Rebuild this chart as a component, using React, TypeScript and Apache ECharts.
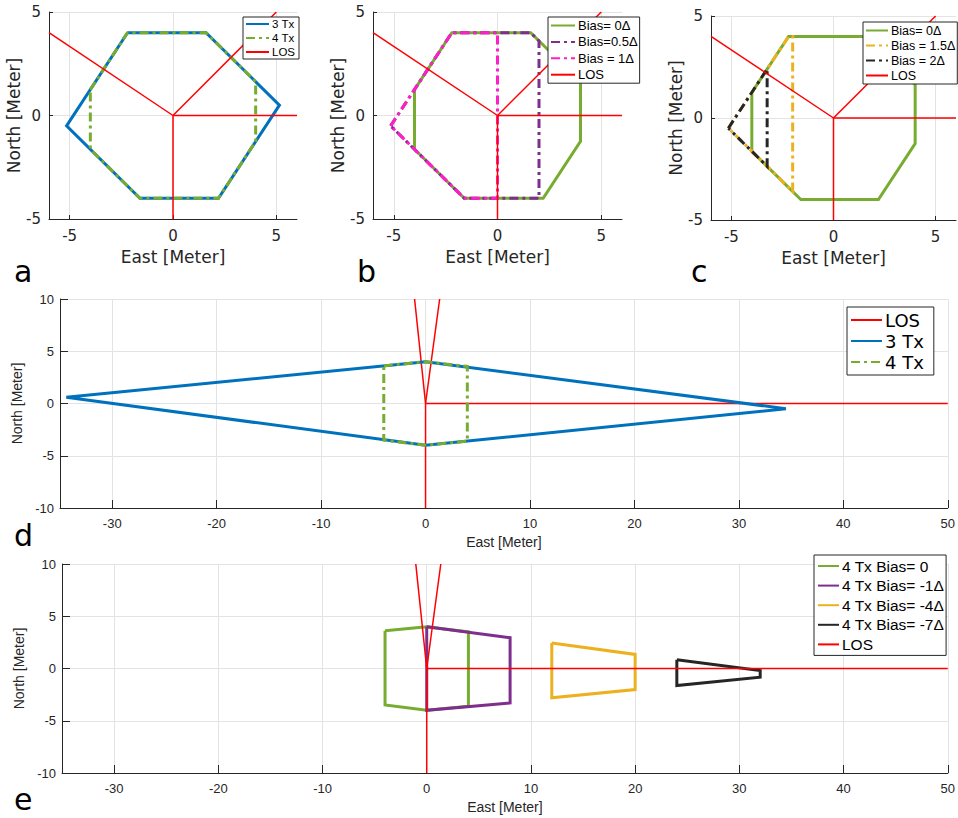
import React, { useEffect, useRef } from "react";
import * as echarts from "echarts";

// ---------- data ----------
const abcXTicks = [-5, 0, 5];
const deXTicks = [-30, -20, -10, 0, 10, 20, 30, 40, 50];

// LOS rays (each from the origin)
const losRaysABC = [
  [[0, 0], [-6, 4]],
  [[0, 0], [5, 5]],
  [[0, 0], [6, 0]],
  [[0, 0], [0, -5]],
];
const losRaysDE = [
  [[0, 0], [-1.05, 10]],
  [[0, 0], [1.35, 10]],
  [[0, 0], [50, 0]],
  [[0, 0], [0, -10]],
];

// panel a
const tx3A = [[-2.2, 4], [1.6, 4], [5.15, 0.5], [2.2, -4], [-1.6, -4], [-5.15, -0.5], [-2.2, 4]];
const tx4A = [[-4, 1.25], [-2.2, 4], [1.6, 4], [4, 1.63], [4, -1.25], [2.2, -4], [-1.6, -4], [-4, -1.63], [-4, 1.25]];
// panel b
const bias05 = [[-5.15, -0.5], [-2.2, 4], [1.6, 4], [2, 3.6], [2, -4], [-1.6, -4], [-5.15, -0.5]];
const bias1 = [[-5.15, -0.5], [-2.2, 4], [0, 4], [0, -4], [-1.6, -4], [-5.15, -0.5]];
// panel c
const bias15 = [[-5.15, -0.5], [-2.2, 4], [-2, 4], [-2, -3.6], [-5.15, -0.5]];
const bias2 = [[-5.15, -0.5], [-3.25, 2.4], [-3.25, -2.37], [-5.15, -0.5]];
// panel d
const tx3D = [[-34.4, 0.6], [0, 4], [34.5, -0.5], [0, -4], [-34.4, 0.6]];
const tx4D = [[-4, 3.6], [0, 4], [4, 3.55], [4, -3.6], [0, -4], [-4, -3.5], [-4, 3.6]];
// panel e
const eBias0 = [[-4, 3.62], [0, 4], [4, 3.5], [4, -3.6], [0, -4], [-4, -3.48], [-4, 3.62]];
const eBiasM1 = [[0, 4], [8, 2.95], [8, -3.3], [0, -4], [0, 4]];
const eBiasM4 = [[12, 2.45], [20, 1.35], [20, -2.02], [12, -2.8], [12, 2.45]];
const eBiasM7 = [[24, 0.83], [32, -0.2], [32, -0.83], [24, -1.63], [24, 0.83]];

// ---------- styles ----------
const BLUE = "#0072BD";
const GREEN = "#77AC30";
const PURPLE = "#7E2F8E";
const YELLOW = "#EDB120";
const BLACK = "#262626";
const MAGENTA = "#FF1FC8";
const RED = "#FF0000";
const AX = "#262626";
const GRID = "#e3e3e3";
const DASHDOT = [9, 4, 3, 4];
const LOSW = 1.5;

const DV = "DejaVu Sans";
const LS = "Liberation Sans";

function xAxisCfg(gi: number, min: number, max: number, ticks: number[], small: boolean) {
  return {
    type: "value",
    gridIndex: gi,
    min,
    max,
    name: "East [Meter]",
    nameLocation: "middle",
    nameGap: small ? 27 : 29,
    nameTextStyle: { fontFamily: small ? LS : DV, fontSize: small ? 14 : 17, color: AX },
    axisLine: { show: true, onZero: false, lineStyle: { color: AX, width: 1 } },
    axisTick: { show: true, inside: true, length: small ? 8 : 4, customValues: ticks, lineStyle: { color: AX } },
    axisLabel: { customValues: ticks, margin: 9, fontFamily: small ? LS : DV, fontSize: small ? 13 : 15, color: AX },
    splitLine: { show: true, lineStyle: { color: GRID, width: 1 } },
  };
}
function yAxisCfg(gi: number, min: number, max: number, interval: number, small: boolean) {
  return {
    type: "value",
    gridIndex: gi,
    min,
    max,
    interval,
    name: "North [Meter]",
    nameLocation: "middle",
    nameGap: small ? 26 : 23,
    nameTextStyle: { fontFamily: small ? LS : DV, fontSize: small ? 14 : 17, color: AX },
    axisLine: { show: true, onZero: false, lineStyle: { color: AX, width: 1 } },
    axisTick: { show: true, inside: true, length: small ? 8 : 4, lineStyle: { color: AX } },
    axisLabel: { margin: small ? 6 : 8, fontFamily: small ? LS : DV, fontSize: small ? 13 : 15, color: AX },
    splitLine: { show: true, lineStyle: { color: GRID, width: 1 } },
  };
}
function line(name: string, gi: number, data: number[][], color: string, width: number, dash?: number[] | string) {
  return {
    type: "line",
    name,
    xAxisIndex: gi,
    yAxisIndex: gi,
    data,
    symbol: "none",
    showSymbol: false,
    clip: true,
    lineStyle: { color, width, type: dash || "solid", join: "miter" },
    itemStyle: { color },
    emphasis: { disabled: true },
  };
}
function losSeries(gi: number, rays: number[][][]) {
  return rays.map((r) => line("LOS", gi, r, RED, LOSW));
}
function legendCfg(names: string[], left: number, top: number, fs: number, ff: string, iw: number, ih: number, gap: number, pad: number[]) {
  return {
    data: names,
    orient: "vertical",
    left,
    top,
    itemWidth: iw,
    itemHeight: ih,
    itemGap: gap,
    padding: pad,
    borderColor: AX,
    borderWidth: 1,
    borderRadius: 0,
    backgroundColor: "#ffffff",
    itemStyle: { opacity: 0 },
    textStyle: { fontFamily: ff, fontSize: fs, color: "#000", padding: [0, 0, 0, -2] },
    selectedMode: false,
  };
}

export default function App() {
  const ref = useRef<HTMLDivElement>(null);
  useEffect(() => {
    if (!ref.current) return;
    const chart = echarts.init(ref.current, null, { renderer: "svg" });
    const option: any = {
      animation: false,
      backgroundColor: "#ffffff",
      grid: [
        { left: 49, top: 12, width: 248, height: 207 },
        { left: 373, top: 12, width: 249, height: 207 },
        { left: 711, top: 16, width: 245, height: 204 },
        { left: 60, top: 299, width: 888, height: 209 },
        { left: 62, top: 564, width: 887, height: 209 },
      ],
      xAxis: [
        xAxisCfg(0, -6, 6, abcXTicks, false),
        xAxisCfg(1, -6, 6, abcXTicks, false),
        xAxisCfg(2, -6, 6, abcXTicks, false),
        xAxisCfg(3, -35, 50, deXTicks, true),
        xAxisCfg(4, -35, 50, deXTicks, true),
      ],
      yAxis: [
        yAxisCfg(0, -5, 5, 5, false),
        yAxisCfg(1, -5, 5, 5, false),
        yAxisCfg(2, -5, 5, 5, false),
        yAxisCfg(3, -10, 10, 5, true),
        yAxisCfg(4, -10, 10, 5, true),
      ],
      legend: [
        legendCfg(["3 Tx", "4 Tx", "LOS"], 243, 17, 11.5, LS, 23, 14, 2, [1, 4, 1, 2]),
        legendCfg(["Bias= 0Δ", "Bias=0.5Δ", "Bias = 1Δ", "LOS"], 548, 17, 13, LS, 24, 14, 3.4, [2, 2, 2, 2]),
        legendCfg(["Bias= 0Δ", "Bias = 1.5Δ", "Bias = 2Δ", "LOS"], 863, 22, 12.5, LS, 22, 13, 2, [2, 2, 2, 2]),
        legendCfg(["LOS", "3 Tx", "4 Tx"], 847, 307, 18, DV, 31, 20, 3, [4, 10, 4, 3]),
        legendCfg(["4 Tx Bias= 0", "4 Tx Bias= -1Δ", "4 Tx Bias= -4Δ", "4 Tx Bias= -7Δ", "LOS"], 814, 555, 15.5, LS, 21, 18, 3.6, [3, 2, 3, 3]),
      ],
      graphic: [
        { type: "text", left: 14, top: 256, style: { text: "a", font: `30px '${DV}'`, fill: "#000" } },
        { type: "text", left: 357, top: 256, style: { text: "b", font: `30px '${DV}'`, fill: "#000" } },
        { type: "text", left: 691, top: 256, style: { text: "c", font: `30px '${DV}'`, fill: "#000" } },
        { type: "text", left: 14, top: 520, style: { text: "d", font: `30px '${DV}'`, fill: "#000" } },
        { type: "text", left: 14, top: 784, style: { text: "e", font: `30px '${DV}'`, fill: "#000" } },
      ],
      series: [
        // a
        line("3 Tx", 0, tx3A, BLUE, 3),
        line("4 Tx", 0, tx4A, GREEN, 3, DASHDOT),
        ...losSeries(0, losRaysABC),
        // b
        line("Bias= 0Δ", 1, tx4A, GREEN, 3),
        line("Bias=0.5Δ", 1, bias05, PURPLE, 3, DASHDOT),
        line("Bias = 1Δ", 1, bias1, MAGENTA, 3, DASHDOT),
        ...losSeries(1, losRaysABC),
        // c
        line("Bias= 0Δ", 2, tx4A, GREEN, 3),
        line("Bias = 1.5Δ", 2, bias15, YELLOW, 3, DASHDOT),
        line("Bias = 2Δ", 2, bias2, BLACK, 3, DASHDOT),
        ...losSeries(2, losRaysABC),
        // d
        ...losSeries(3, losRaysDE),
        line("3 Tx", 3, tx3D, BLUE, 3),
        line("4 Tx", 3, tx4D, GREEN, 3, DASHDOT),
        // e
        line("4 Tx Bias= 0", 4, eBias0, GREEN, 3),
        line("4 Tx Bias= -1Δ", 4, eBiasM1, PURPLE, 3),
        line("4 Tx Bias= -4Δ", 4, eBiasM4, YELLOW, 3),
        line("4 Tx Bias= -7Δ", 4, eBiasM7, BLACK, 3),
        ...losSeries(4, losRaysDE),
      ],
    };
    chart.setOption(option);
    return () => chart.dispose();
  }, []);
  return (
    <div
      ref={ref}
      style={{ position: "absolute", left: 0, top: 0, width: 958, height: 818, background: "#fff" }}
    />
  );
}
